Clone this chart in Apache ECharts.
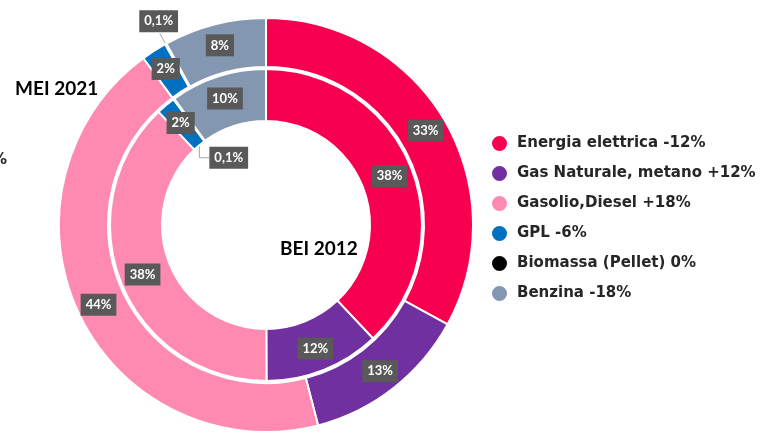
<!DOCTYPE html>
<html>
<head>
<meta charset="utf-8">
<script src="https://cdn.jsdelivr.net/npm/echarts@6/dist/echarts.min.js"></script>
<style>
  html, body { margin: 0; padding: 0; background: #fff; }
  #chart { width: 760px; height: 433px; }
</style>
</head>
<body>
<div id="chart"></div>
<script>
// legend entries (fuel + change between the two inventories)
var categories = [
  "Energia elettrica -12%",
  "Gas Naturale, metano +12%",
  "Gasolio,Diesel +18%",
  "GPL -6%",
  "Biomassa (Pellet) 0%",
  "Benzina -18%"
];
// outer ring
var mei2021 = [33, 13, 44, 2, 0.1, 8];
// inner ring
var bei2012 = [38, 12, 38, 2, 0.1, 10];
var colors = ["#F70050", "#7030A0", "#FF8AB1", "#0070C0", "#000000", "#8497B0"];

var CX = 266, CY = 225;
var outerR = [158, 207], innerR = [104, 156];

// point on the ring at the middle angle of slice idx (clockwise from 12 o'clock)
function midPoint(values, idx, r) {
  var total = 0, before = 0;
  values.forEach(function(v, i) { total += v; if (i < idx) before += v; });
  var a = (before + values[idx] / 2) / total * Math.PI * 2;
  return [CX + r * Math.sin(a), CY - r * Math.cos(a)];
}

function pct(p) {
  return String(p.value).replace(".", ",") + "%";
}

function buildData(values, smallIdx) {
  return values.map(function(v, i) {
    var item = { name: categories[i], value: v, itemStyle: { color: colors[i] } };
    if (i === smallIdx) {
      item.label = { position: "outside" };
      item.labelLine = { show: true, length: 10, length2: 10 };
    }
    return item;
  });
}

var labelStyle = {
  show: true,
  position: "inside",
  formatter: pct,
  color: "#fff",
  fontFamily: "Lato",
  fontWeight: "bold",
  fontSize: 13,
  backgroundColor: "#595959",
  padding: [5, 5, 4, 5]
};

var chart = echarts.init(document.getElementById("chart"));
chart.setOption({
  animation: false,
  color: colors,
  title: [
    {
      text: "MEI 2021", left: 10, top: 74,
      textStyle: { fontFamily: "Lato", fontWeight: "bold", fontSize: 19, color: "#000" }
    },
    {
      text: "BEI 2012", left: 275, top: 234,
      textStyle: { fontFamily: "Lato", fontWeight: "bold", fontSize: 19, color: "#000" }
    }
  ],
  graphic: [
    {
      type: "text", left: -8, top: 153,
      style: { text: "%", font: "bold 15px 'DejaVu Sans'", fill: "#262626" }
    }
  ],
  legend: {
    orient: "vertical",
    left: 485,
    top: 129,
    icon: "circle",
    itemWidth: 17,
    itemHeight: 17,
    itemGap: 11,
    selectedMode: false,
    textStyle: {
      fontFamily: "DejaVu Sans",
      fontWeight: "bold",
      fontSize: 15,
      color: "#262626",
      padding: [0, 0, 0, 4]
    },
    data: categories
  },
  series: [
    {
      name: "MEI 2021",
      type: "pie",
      center: [CX, CY],
      radius: outerR,
      startAngle: 90,
      clockwise: true,
      emphasis: { disabled: true },
      itemStyle: { borderColor: "#fff", borderWidth: 2 },
      label: labelStyle,
      labelLine: { show: false, lineStyle: { color: "#A6A6A6", width: 1 } },
      labelLayout: function(p) {
        if (p.dataIndex !== 4) return {};
        var a = midPoint(mei2021, 4, (outerR[0] + outerR[1]) / 2);
        var lx = a[0] - 19, ly = a[1] - 44;
        return {
          x: lx, y: ly, align: "center", verticalAlign: "middle",
          labelLinePoints: [a, [lx + 1, ly + 12], [lx + 1, ly + 12]]
        };
      },
      data: buildData(mei2021, 4)
    },
    {
      name: "BEI 2012",
      type: "pie",
      center: [CX, CY],
      radius: innerR,
      startAngle: 90,
      clockwise: true,
      emphasis: { disabled: true },
      itemStyle: { borderColor: "#fff", borderWidth: 2 },
      label: labelStyle,
      labelLine: { show: false, lineStyle: { color: "#A6A6A6", width: 1 } },
      labelLayout: function(p) {
        if (p.dataIndex !== 4) return {};
        var a = midPoint(bei2012, 4, innerR[0] + 9);
        var lx = a[0] + 10, ly = a[1] + 24;
        return {
          x: lx, y: ly, align: "left", verticalAlign: "middle",
          labelLinePoints: [a, [a[0], ly], [lx, ly]]
        };
      },
      data: buildData(bei2012, 4)
    }
  ]
});
</script>
</body>
</html>
